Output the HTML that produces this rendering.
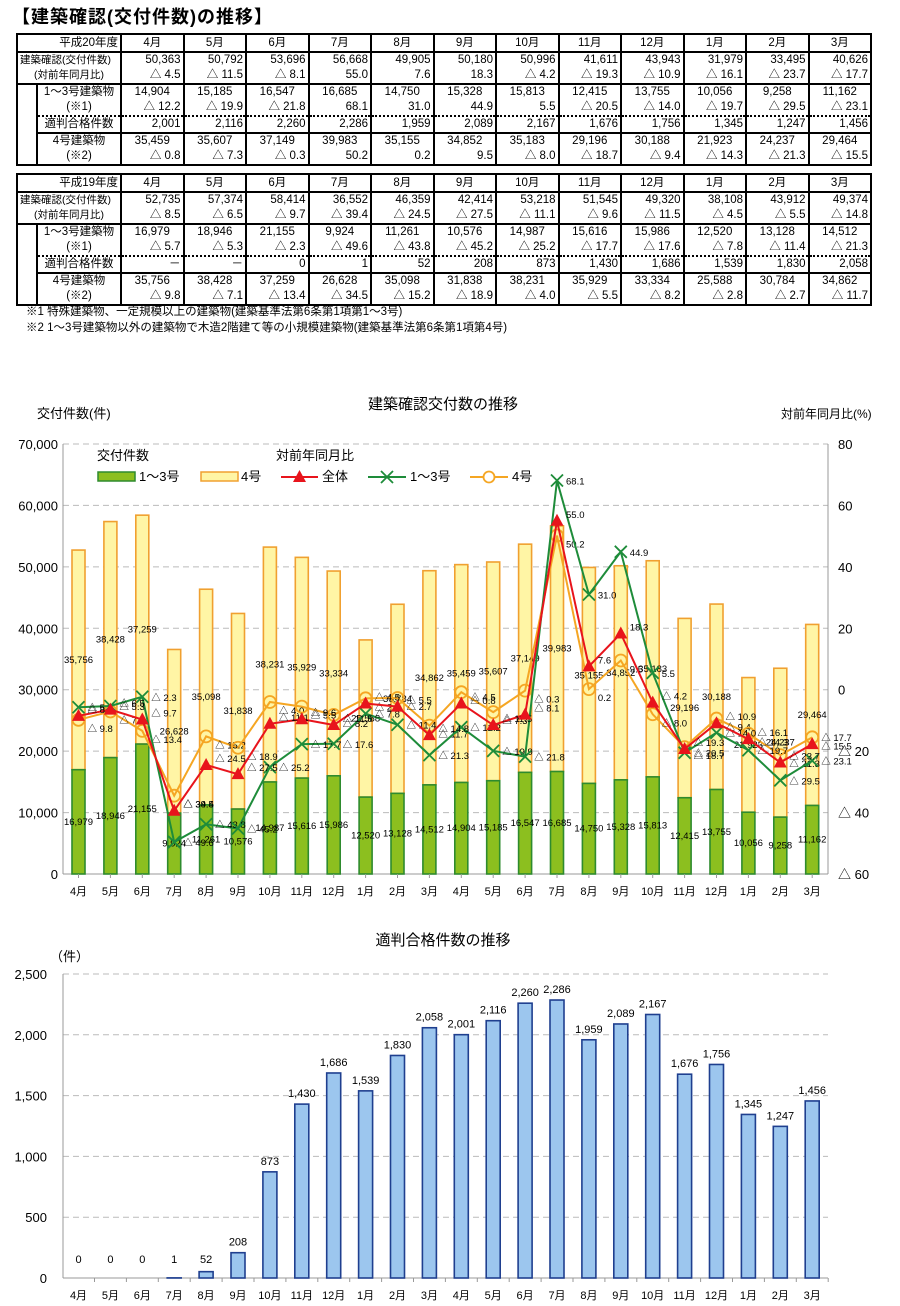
<!DOCTYPE html>
<html><head><meta charset="utf-8">
<style>
html,body{margin:0;padding:0;background:#fff;}
body{width:900px;height:1306px;position:relative;overflow:hidden;font-family:"Liberation Sans","Noto Sans CJK JP",sans-serif;color:#000;}
.title{position:absolute;left:12px;top:3px;font-size:18px;font-weight:bold;letter-spacing:1px;}
table.t{position:absolute;left:16px;width:855px;border-collapse:collapse;font-size:11.5px;table-layout:fixed;}
table.t td{padding:0 2px;height:15px;line-height:15px;white-space:nowrap;overflow:hidden;}
table.t td.n{text-align:right;border-left:2px solid #000;border-right:2px solid #000;}
table.t tr.h td{height:16px;text-align:center;border-bottom:2px solid #000;border-left:2px solid #000;}
.note{position:absolute;left:26px;font-size:11.5px;}
svg text{font-family:"Liberation Sans","Noto Sans CJK JP",sans-serif;}
</style></head><body>
<div class="title">【建築確認(交付件数)の推移】</div>
<div id="tables"></div>
<div class="note" style="top:303px">※1 特殊建築物、一定規模以上の建築物(建築基準法第6条第1項第1～3号)</div>
<div class="note" style="top:319px">※2 1～3号建築物以外の建築物で木造2階建て等の小規模建築物(建築基準法第6条第1項第4号)</div>
<svg id="c" width="900" height="1306" style="position:absolute;left:0;top:0"></svg>
<script>
var months=["4月","5月","6月","7月","8月","9月","10月","11月","12月","1月","2月","3月"];
var T=[
{y:"平成20年度",top:33,
tot:[50363,50792,53696,56668,49905,50180,50996,41611,43943,31979,33495,40626],
totr:["△ 4.5","△ 11.5","△ 8.1","55.0","7.6","18.3","△ 4.2","△ 19.3","△ 10.9","△ 16.1","△ 23.7","△ 17.7"],
a:[14904,15185,16547,16685,14750,15328,15813,12415,13755,10056,9258,11162],
ar:["△ 12.2","△ 19.9","△ 21.8","68.1","31.0","44.9","5.5","△ 20.5","△ 14.0","△ 19.7","△ 29.5","△ 23.1"],
t:[2001,2116,2260,2286,1959,2089,2167,1676,1756,1345,1247,1456],
b:[35459,35607,37149,39983,35155,34852,35183,29196,30188,21923,24237,29464],
br:["△ 0.8","△ 7.3","△ 0.3","50.2","0.2","9.5","△ 8.0","△ 18.7","△ 9.4","△ 14.3","△ 21.3","△ 15.5"]},
{y:"平成19年度",top:173,
tot:[52735,57374,58414,36552,46359,42414,53218,51545,49320,38108,43912,49374],
totr:["△ 8.5","△ 6.5","△ 9.7","△ 39.4","△ 24.5","△ 27.5","△ 11.1","△ 9.6","△ 11.5","△ 4.5","△ 5.5","△ 14.8"],
a:[16979,18946,21155,9924,11261,10576,14987,15616,15986,12520,13128,14512],
ar:["△ 5.7","△ 5.3","△ 2.3","△ 49.6","△ 43.8","△ 45.2","△ 25.2","△ 17.7","△ 17.6","△ 7.8","△ 11.4","△ 21.3"],
t:["－","－",0,1,52,208,873,1430,1686,1539,1830,2058],
b:[35756,38428,37259,26628,35098,31838,38231,35929,33334,25588,30784,34862],
br:["△ 9.8","△ 7.1","△ 13.4","△ 34.5","△ 15.2","△ 18.9","△ 4.0","△ 5.5","△ 8.2","△ 2.8","△ 2.7","△ 11.7"]}];
function f(v){return typeof v=="number"?v.toLocaleString("en-US"):v;}
var h="";
T.forEach(function(d){
 h+='<table class="t" style="top:'+d.top+'px;border:2px solid #000"><colgroup><col style="width:20px"><col style="width:84px">'+months.map(function(){return '<col style="width:62.5px">';}).join("")+'</colgroup>';
 h+='<tr class="h"><td colspan="2" style="text-align:right;border-left:none">'+d.y+'</td>'+months.map(function(m){return '<td>'+m+'</td>';}).join("")+'</tr>';
 function row(lbl,arr,opt){
  var s='<tr>';
  if(opt.full){s+='<td colspan="2" style="text-align:'+(opt.c?'center':'left')+';font-size:10.5px;'+(opt.bb?'border-bottom:2px solid #000':'')+'">'+lbl+'</td>';}
  else{ if(opt.first) s+='<td rowspan="5" style="border-right:2px solid #000"></td>'; s+='<td style="text-align:center;'+(opt.bs||'')+'">'+lbl+'</td>';}
  arr.forEach(function(v){s+='<td class="n" style="'+(opt.bs||'')+(opt.c2?'text-align:center;':'')+'">'+f(v)+'</td>';});
  return s+'</tr>';}
 h+=row("建築確認(交付件数)",d.tot,{full:1});
 h+=row("(対前年同月比)",d.totr,{full:1,c:1,bb:1}).replace(/<td class="n" style="/g,'<td class="n" style="border-bottom:2px solid #000;');
 h+=row("1～3号建築物",d.a,{first:1,c2:1});
 h+=row("(※1)",d.ar,{bs:"border-bottom:2px dotted #000;"});
 h+=row("適判合格件数",d.t,{bs:"border-bottom:2px solid #000;"});
 h+=row("4号建築物",d.b,{c2:1});
 h+=row("(※2)",d.br,{});
 h+='</table>';
});
document.getElementById("tables").innerHTML=h;

var s="";
function tx(x,y,t,sz,anc,extra){return '<text x="'+x+'" y="'+y+'" font-size="'+sz+'" text-anchor="'+(anc||"start")+'" '+(extra||"")+'>'+t+'</text>';}
var X0=63,X1=828,SL=31.9;function cx(i){return 78.5+i*SL;}
var top1=444,bot1=874,H1=bot1-top1;
function y1(v){return bot1-v/70000*H1;}
function yr(v){return top1+(80-v)/140*H1;}
s+=tx(443,409,"建築確認交付数の推移",15,"middle");
s+=tx(37,418,"交付件数(件)",13);
s+=tx(781,418,"対前年同月比(%)",12);
for(var k=0;k<=7;k++){var yy=y1(k*10000);
 if(k>0)s+='<line x1="'+X0+'" x2="'+X1+'" y1="'+yy+'" y2="'+yy+'" stroke="#bbb" stroke-dasharray="6,4"/>';
 s+=tx(58,yy+5,(k*10000).toLocaleString("en-US"),13,"end");
 var rv=-60+k*20;s+=tx(838,yy+5,(rv<0?"△ "+(-rv):rv),13);}
s+='<line x1="'+X0+'" x2="'+X0+'" y1="'+top1+'" y2="'+bot1+'" stroke="#999"/><line x1="'+X1+'" x2="'+X1+'" y1="'+top1+'" y2="'+bot1+'" stroke="#999"/><line x1="'+X0+'" x2="'+X1+'" y1="'+bot1+'" y2="'+bot1+'" stroke="#999"/>';
var A=T[1].a.concat(T[0].a),B=T[1].b.concat(T[0].b);
function num(a){return a.map(function(t){return t.indexOf("△")==0?-parseFloat(t.slice(2)):parseFloat(t);});}
var RT=num(T[1].totr.concat(T[0].totr)),RA=num(T[1].ar.concat(T[0].ar)),RB=num(T[1].br.concat(T[0].br));
var M=months.concat(months);
for(var i=0;i<24;i++){var x=cx(i),w=13;
 var ya=y1(A[i]),yb=y1(A[i]+B[i]);
 s+='<rect x="'+(x-w/2)+'" y="'+yb+'" width="'+w+'" height="'+(ya-yb)+'" fill="#fff5a5" stroke="#f0a030" stroke-width="1.6"/>';
 s+='<rect x="'+(x-w/2)+'" y="'+ya+'" width="'+w+'" height="'+(bot1-ya)+'" fill="#8cbf1f" stroke="#2e8b2e" stroke-width="1.6"/>';
 s+=tx(x,(ya+yb)/2+3,B[i].toLocaleString("en-US"),9.5,"middle");
 s+=tx(x,Math.min((ya+bot1)/2+3,868),A[i].toLocaleString("en-US"),9.5,"middle");
 s+='<line x1="'+x+'" x2="'+x+'" y1="'+bot1+'" y2="'+(bot1+4)+'" stroke="#999"/>';
 s+=tx(x,895,M[i],11,"middle");}
function line(R,col,mk){var p=R.map(function(v,i){return cx(i)+","+yr(v);}).join(" ");
 var o='<polyline points="'+p+'" fill="none" stroke="'+col+'" stroke-width="2"/>';
 R.forEach(function(v,i){var x=cx(i),y=yr(v);
  if(mk=="t")o+='<polygon points="'+x+','+(y-7)+' '+(x-6.5)+','+(y+5)+' '+(x+6.5)+','+(y+5)+'" fill="#e8141c"/>';
  else if(mk=="x")o+='<path d="M'+(x-6)+' '+(y-6)+'L'+(x+6)+' '+(y+6)+'M'+(x+6)+' '+(y-6)+'L'+(x-6)+' '+(y+6)+'" stroke="'+col+'" stroke-width="1.8"/>';
  else o+='<circle cx="'+x+'" cy="'+y+'" r="6" fill="none" stroke="'+col+'" stroke-width="1.8"/>';
  o+=tx(x+9,y+(mk=="t"?-3:mk=="x"?4:12),(v<0?"△ "+(-v).toFixed(1):v.toFixed(1)),9.5);});
 return o;}
s+=line(RB,"#f5a623","o")+line(RA,"#1e8c3a","x")+line(RT,"#e8141c","t");
s+=tx(97,460,"交付件数",13)+tx(276,460,"対前年同月比",13);
s+='<rect x="98" y="472" width="37" height="9" fill="#8cbf1f" stroke="#2e8b2e" stroke-width="1.5"/>'+tx(139,481,"1～3号",13);
s+='<rect x="201" y="472" width="37" height="9" fill="#fff5a5" stroke="#f0a030" stroke-width="1.5"/>'+tx(241,481,"4号",13);
s+='<line x1="281" x2="318" y1="477" y2="477" stroke="#e8141c" stroke-width="2"/><polygon points="299.5,470 293,482 306,482" fill="#e8141c"/>'+tx(322,481,"全体",13);
s+='<line x1="368" x2="406" y1="477" y2="477" stroke="#1e8c3a" stroke-width="2"/><path d="M381 471L393 483M393 471L381 483" stroke="#1e8c3a" stroke-width="1.8"/>'+tx(410,481,"1～3号",13);
s+='<line x1="470" x2="508" y1="477" y2="477" stroke="#f5a623" stroke-width="2"/><circle cx="489" cy="477" r="5.5" fill="#fff" stroke="#f5a623" stroke-width="1.8"/>'+tx(512,481,"4号",13);
var top2=974,bot2=1278,H2=bot2-top2;function y2(v){return bot2-v/2500*H2;}
s+=tx(443,945,"適判合格件数の推移",15,"middle");
s+=tx(50,961,"（件）",13);
for(k=0;k<=5;k++){yy=y2(k*500);
 if(k>0)s+='<line x1="'+X0+'" x2="'+X1+'" y1="'+yy+'" y2="'+yy+'" stroke="#bbb" stroke-dasharray="6,4"/>';
 s+=tx(47,yy+5,(k*500).toLocaleString("en-US"),13,"end");}
s+='<line x1="'+X0+'" x2="'+X0+'" y1="'+top2+'" y2="'+bot2+'" stroke="#999"/><line x1="'+X0+'" x2="'+X1+'" y1="'+bot2+'" y2="'+bot2+'" stroke="#999"/>';
var TT=[0,0,0,1,52,208,873,1430,1686,1539,1830,2058].concat(T[0].t);
for(i=0;i<24;i++){x=cx(i);var yv=y2(TT[i]);
 if(TT[i]>0)s+='<rect x="'+(x-7)+'" y="'+yv+'" width="14" height="'+(bot2-yv)+'" fill="#9cc6ee" stroke="#1f3f8f" stroke-width="1.6"/>';
 s+=tx(x,Math.min(yv-7,1263),TT[i].toLocaleString("en-US"),11,"middle");
 s+='<line x1="'+(x+16)+'" x2="'+(x+16)+'" y1="'+bot2+'" y2="'+(bot2+4)+'" stroke="#999"/>';
 s+=tx(x,1299,M[i],11,"middle");}
document.getElementById("c").innerHTML=s;
</script>
</body></html>
